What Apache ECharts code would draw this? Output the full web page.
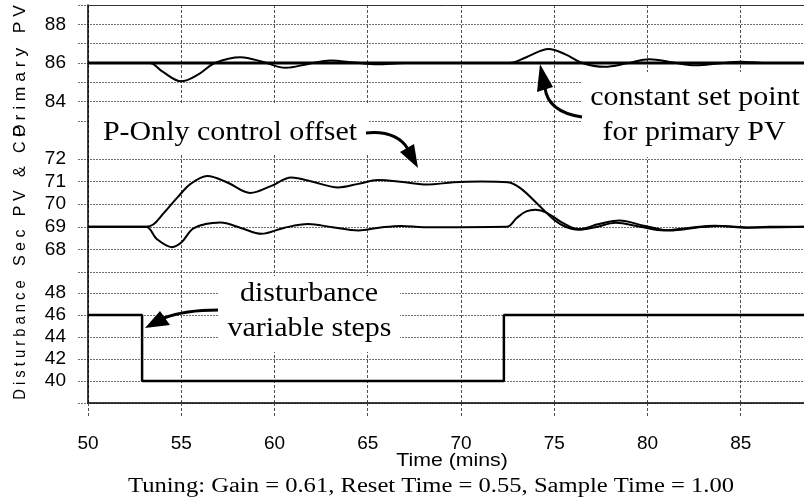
<!DOCTYPE html>
<html>
<head>
<meta charset="utf-8">
<script src="https://cdn.jsdelivr.net/npm/echarts@6/dist/echarts.min.js"></script>
<style>
html, body { margin: 0; padding: 0; background: #fff; }
#chart { width: 804px; height: 500px; }
</style>
</head>
<body>
<div id="chart"></div>
<script>
// time axis (mins)
const timeMin = 50
const timeMax = 88.5

// primary PV and its set point
const spTime = [50, 88.5]
const spPrimary = [86, 86]
const pvTime = [50, 53.3, 54.0, 55.0, 55.9, 56.8, 58.2, 59.4, 60.6, 61.8, 63.0, 64.3, 65.5, 67.0,
  72.6, 73.5, 74.7, 75.6, 76.5, 77.7, 78.9, 80.1, 81.4, 82.6, 83.8, 85.0, 86.3, 88.5]
const pvPrimary = [86, 86, 85.55, 85.05, 85.4, 86, 86.3, 86.05, 85.75, 85.95, 86.13, 86.02, 85.93, 86,
  86, 86.3, 86.72, 86.45, 86, 85.8, 85.98, 86.2, 86.02, 85.88, 85.98, 86.07, 86, 86]

// controller output (upper trace) and secondary PV (lower trace)
const coTime = [50, 53.1, 53.5, 54.0, 54.8, 55.5, 56.4, 57.5, 58.7, 59.8, 60.9, 62.1, 63.4, 64.5, 65.55, 66.9,
  68.2, 69.6, 71.1, 72.5, 73.2, 74.3, 75.0, 75.6, 76.3, 77.2, 78.3, 79.6, 80.9, 82.2, 83.6, 85.4, 86.5, 88.5]
const coValue = [69, 69, 69.1, 69.55, 70.3, 70.9, 71.25, 70.95, 70.5, 70.8, 71.18, 70.98, 70.74, 70.9, 71.07, 70.98,
  70.87, 70.97, 71.0, 70.97, 70.7, 69.85, 69.3, 69.0, 68.87, 68.98, 69.18, 69.0, 68.84, 68.95, 69.05, 68.96, 69, 69]
const secTime = [50, 53.1, 53.7, 54.5, 55.0, 55.6, 56.3, 57.1, 58.2, 59.3, 60.5, 61.8, 63.1, 64.5, 65.7,
  66.8, 68.0, 72.45, 73.0, 73.5, 74.0, 74.6, 75.4, 76.3, 77.4, 78.5, 79.8, 81.2, 82.6, 83.9, 85.5, 88.5]
const secPV = [69, 69, 68.45, 68.1, 68.3, 68.9, 69.12, 69.19, 68.95, 68.69, 68.95, 69.12, 68.98, 68.84, 68.97,
  69.04, 68.98, 69, 69.4, 69.68, 69.75, 69.62, 69.2, 68.9, 69.12, 69.28, 69.05, 68.84, 68.96, 69.04, 68.97, 69]

// disturbance steps
const distTime = [50, 52.9, 72.3, 88.5]
const distValue = [46, 40, 46, 46]

// y tick labels
const primaryLabels = [84, 86, 88]
const secLabels = [68, 69, 70, 71, 72]
const distLabels = [40, 42, 44, 46, 48]

const zip = (xs, ys) => xs.map((x, i) => [x, ys[i]])

const sans = 'Liberation Sans, Arial, sans-serif'
const serif = 'Liberation Serif, Times New Roman, serif'
const gridDash = { color: '#707070', width: 1, type: [2, 1] }
const vDash = { color: '#505050', width: 1, type: [3, 2] }

// frame: x = 88 .. 806 px. panel grids start 10px further left so their
// grid lines stick out past the left axis like ticks
const frameLeft = 88
const frameWidth = 718
const tickLen = 10
const panelMin = timeMin - tickLen * (timeMax - timeMin) / frameWidth

const mychart = echarts.init(document.getElementById('chart'))

function splitY(gridIndex, min, max, interval) {
  return {
    type: 'value', gridIndex: gridIndex, min: min, max: max, interval: interval, position: 'left',
    axisLine: { show: false }, axisTick: { show: false }, axisLabel: { show: false },
    splitLine: { show: true, lineStyle: gridDash }
  }
}
function labelY(gridIndex, min, max, labels) {
  return {
    type: 'value', gridIndex: gridIndex, min: min, max: max, position: 'left',
    axisLine: { show: false }, axisTick: { show: false },
    axisLabel: { customValues: labels, color: '#000', fontFamily: sans, fontSize: 19, margin: 12 },
    splitLine: { show: false }
  }
}
function panelX(gridIndex) {
  return { type: 'value', gridIndex: gridIndex, min: panelMin, max: timeMax, show: false }
}
function makeGrid(left, top, height) {
  const g = { left: left, right: -2, top: top, outerBoundsMode: 'none', containLabel: false }
  if (height) g.height = height
  else g.bottom = 97
  return g
}

function vText(text, y, align, scale) {
  return {
    type: 'text', x: 21, y: y, rotation: Math.PI / 2, scaleX: scale, z: 110,
    style: { text: text, font: '16px ' + sans, fill: '#000', textAlign: align, textVerticalAlign: 'middle' }
  }
}
function note(text, x, y) {
  return {
    type: 'text', x: x, y: y, scaleX: 1.07, z: 110,
    style: { text: text, font: '28px ' + serif, fill: '#000', textAlign: 'center', textVerticalAlign: 'middle' }
  }
}
function box(x, y, w, h) {
  return { type: 'rect', z: 100, shape: { x: x, y: y, width: w, height: h }, style: { fill: '#fff' } }
}
function arrow(curve, head) {
  return [
    { type: 'bezierCurve', z: 110, shape: curve, style: { stroke: '#000', lineWidth: 3, fill: null } },
    { type: 'polygon', z: 110, shape: { points: head }, style: { fill: '#000' } }
  ]
}

const option = {
  animation: false,
  backgroundColor: '#fff',
  grid: [
    makeGrid(frameLeft, 5),
    makeGrid(frameLeft - tickLen, 5, 116),
    makeGrid(frameLeft - tickLen, 159, 113),
    makeGrid(frameLeft - tickLen, 293)
  ],
  xAxis: [
    {
      type: 'value', gridIndex: 0, min: timeMin, max: timeMax, interval: 5, position: 'bottom',
      axisLine: { show: true, lineStyle: { color: '#000', width: 1.5 } },
      axisTick: { show: true, length: 13, lineStyle: vDash },
      axisLabel: { showMaxLabel: false, color: '#000', fontFamily: sans, fontSize: 19, margin: 31 },
      splitLine: { show: true, lineStyle: vDash }
    },
    {
      type: 'value', gridIndex: 0, min: timeMin, max: timeMax, position: 'top',
      axisLine: { show: true, lineStyle: { color: '#333', width: 1 } },
      axisTick: { show: false }, axisLabel: { show: false }, splitLine: { show: false }
    },
    panelX(1), panelX(2), panelX(3)
  ],
  yAxis: [
    {
      type: 'value', gridIndex: 0, min: 0, max: 1, position: 'left',
      axisLine: { show: true, lineStyle: { color: '#000', width: 1.5 } },
      axisTick: { show: false }, axisLabel: { show: false }, splitLine: { show: false }
    },
    splitY(1, 83, 89, 1), labelY(1, 83, 89, primaryLabels),
    splitY(2, 67, 72, 1), labelY(2, 67, 72, secLabels),
    splitY(3, 38, 48, 2), labelY(3, 38, 48, distLabels)
  ],
  series: [
    { type: 'line', xAxisIndex: 2, yAxisIndex: 1, data: zip(spTime, spPrimary), symbol: 'none',
      lineStyle: { color: '#000', width: 3 } },
    { type: 'line', xAxisIndex: 2, yAxisIndex: 1, data: zip(pvTime, pvPrimary), symbol: 'none', smooth: 0.35,
      lineStyle: { color: '#000', width: 2 } },
    { type: 'line', xAxisIndex: 3, yAxisIndex: 3, data: zip(coTime, coValue), symbol: 'none', smooth: 0.35,
      lineStyle: { color: '#000', width: 2 } },
    { type: 'line', xAxisIndex: 3, yAxisIndex: 3, data: zip(secTime, secPV), symbol: 'none', smooth: 0.35,
      lineStyle: { color: '#000', width: 2 } },
    { type: 'line', xAxisIndex: 4, yAxisIndex: 5, data: zip(distTime, distValue), symbol: 'none', step: 'end',
      lineStyle: { color: '#000', width: 2.5 } }
  ],
  graphic: [
    box(90, 103, 278, 52),
    box(582, 72, 224, 85),
    box(218, 276, 182, 76),
    note('P-Only control offset', 230, 132.5),
    note('constant set point', 695, 97.5),
    note('for primary PV', 694, 132.5),
    note('disturbance', 309, 293.5),
    note('variable steps', 309.5, 328.5),
    ...arrow({ x1: 366, y1: 133, cpx1: 396, cpy1: 130, x2: 408, y2: 149 }, [[418, 168], [400, 152], [414, 144]]),
    ...arrow({ x1: 582, y1: 117, cpx1: 548, cpy1: 112, x2: 545, y2: 88 }, [[540, 64], [537, 92], [553, 87]]),
    ...arrow({ x1: 218, y1: 310, cpx1: 185, cpy1: 310, x2: 164, y2: 318 }, [[145, 328], [160, 311], [170, 325]]),
    vText('D i s t u r b a n c e', 340, 'center', 0.92),
    vText('S e c   P V   &   C O', 266, 'left', 1.0),
    vText('P r i m a r y   P V', 137, 'left', 1.09),
    {
      type: 'text', x: 452, y: 460.5, scaleX: 1.12, z: 110,
      style: { text: 'Time (mins)', font: '19px ' + sans, fill: '#000', textAlign: 'center', textVerticalAlign: 'middle' }
    },
    {
      type: 'text', x: 128, y: 486.5, scaleX: 1.23, z: 110,
      style: { text: 'Tuning: Gain = 0.61, Reset Time = 0.55, Sample Time = 1.00', font: '20px ' + serif,
        fill: '#000', textAlign: 'left', textVerticalAlign: 'middle' }
    }
  ]
}
mychart.setOption(option, true)
</script>
</body>
</html>
